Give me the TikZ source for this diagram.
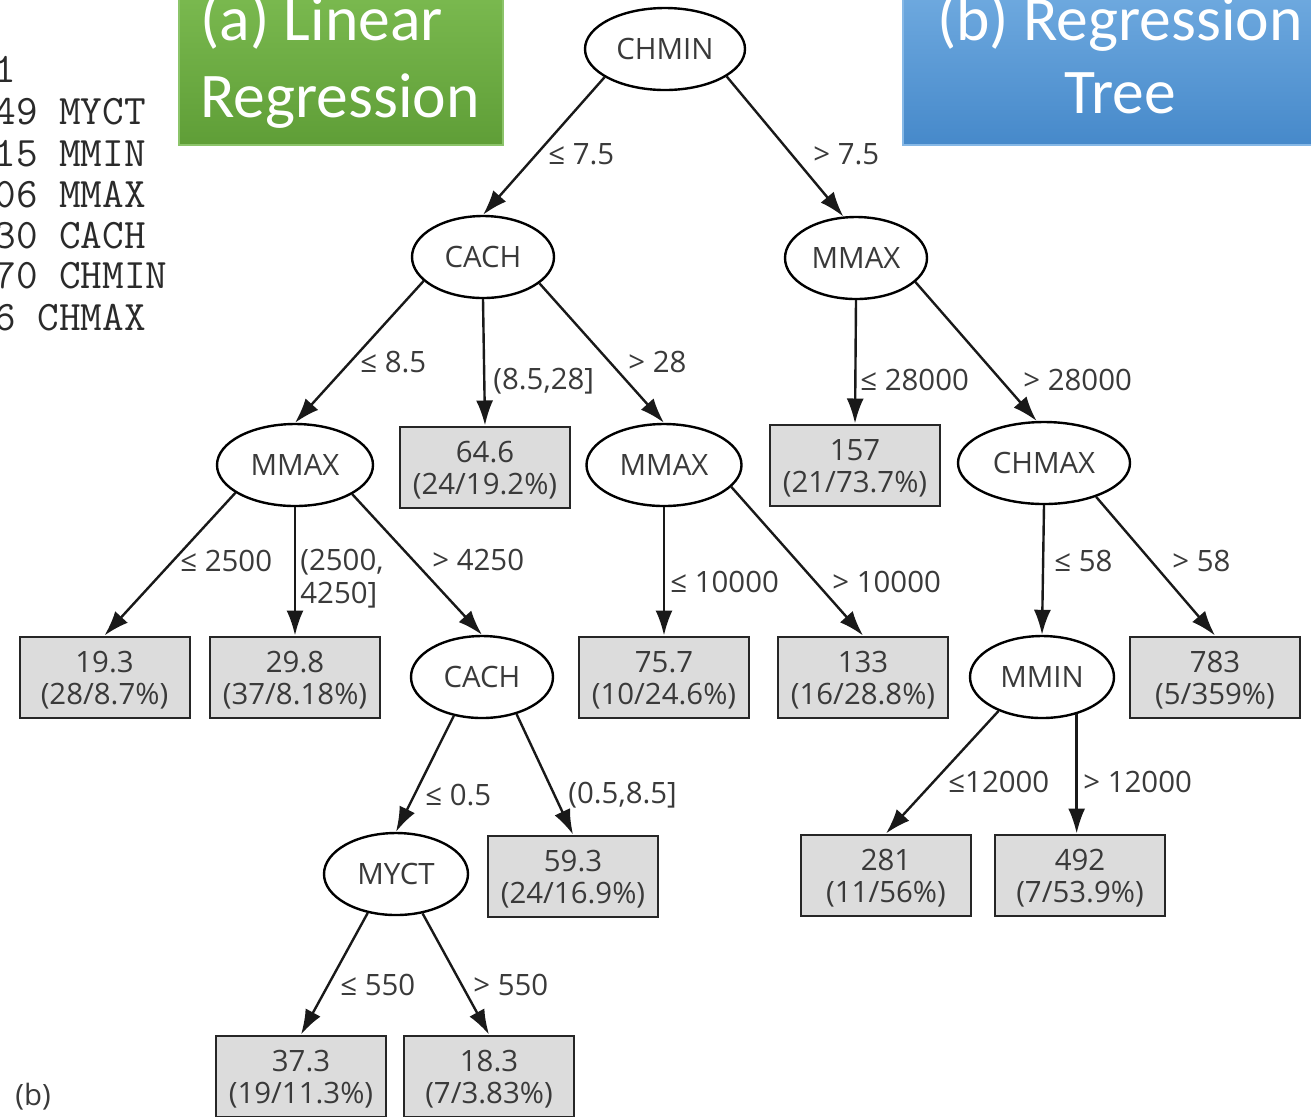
\documentclass[tikz,border=0pt]{standalone}
\usepackage{fontspec}
\usetikzlibrary{shapes.geometric,arrows.meta}
\newfontfamily\nodefont{Open Sans}
\newfontfamily\titlefont{Carlito}
\definecolor{inktext}{HTML}{3A3A3A}
\definecolor{codeink}{HTML}{2A2A2A}
\definecolor{leafgray}{HTML}{DCDCDC}
\definecolor{greentop}{HTML}{7AB94F}
\definecolor{greenbot}{HTML}{5F9E37}
\definecolor{greenedge}{HTML}{8CC46A}
\definecolor{bluetop}{HTML}{6EA9DF}
\definecolor{bluebot}{HTML}{4689CA}
\definecolor{blueedge}{HTML}{86B8E6}

\tikzset{
  test/.style={ellipse, draw=black, line width=1.2pt, fill=white, inner sep=0pt,
    minimum height=41pt, text=inktext,
    font=\nodefont\fontsize{14.7}{16}\selectfont, text height=10.5pt, text depth=0pt},
  leaf/.style={rectangle, draw=black!85, line width=1pt, fill=leafgray, inner sep=0pt,
    minimum width=85pt, minimum height=40.5pt, align=center, text=inktext,
    font=\nodefont\fontsize{14.7}{16}\selectfont, text height=27pt, text depth=0pt},
  lab/.style={inner sep=0pt, anchor=west, text=inktext,
    font=\nodefont\fontsize{14.7}{16.5}\selectfont, text height=10.5pt, text depth=0pt},
  arr/.style={draw=black!90, line width=1.2pt, -{Latex[length=12.5pt,width=8.5pt]}},
  code/.style={anchor=base west, inner sep=0pt, text=codeink,
    font=\ttfamily\fontsize{21}{24}\selectfont},
}

\begin{document}
\begin{tikzpicture}[x=0.5pt, y=-0.5pt]
\useasboundingbox (0,0) rectangle (1311,1116);
\clip (0,0) rectangle (1311,1116);
\fill[white] (0,0) rectangle (1311,1116);

% coefficient listing of the linear model
\node[code] (c1) at (-6,82)  {1};
\node[code] (c2) at (-6,124) {49 MYCT};
\node[code] (c3) at (-6,166) {15 MMIN};
\node[code] (c4) at (-6,207) {06 MMAX};
\node[code] (c5) at (-6,248) {30 CACH};
\node[code] (c6) at (-6,288) {70 CHMIN};
\node[code] (c7) at (-6,330) {6 CHMAX};

% title banners (the base anchor of a two-line node sits on its last line)
\shade[top color=greentop, bottom color=greenbot] (179,-5) rectangle (503,145);
\draw[greenedge, line width=0.6pt] (179,-5) rectangle (503,145);
\node[anchor=base west, inner sep=0pt, align=left, text=white,
  font=\titlefont\fontsize{31.8}{38.5}\selectfont] (ta) at (200,117) {(a) Linear\\Regression};

\shade[top color=bluetop, bottom color=bluebot] (903,-5) rectangle (1320,145);
\draw[blueedge, line width=0.6pt] (903,-5) rectangle (1320,145);
\node[anchor=base, inner sep=0pt, align=center, text=white,
  font=\titlefont\fontsize{31.8}{36.5}\selectfont] (tb) at (1120,113) {(b) Regression\\Tree};

% tree nodes
\node[test, minimum width=80pt]   (chmin) at (665,49)  {CHMIN};
\node[test, minimum width=71pt]   (cachA) at (483,257) {CACH};
\node[test, minimum width=71pt]   (mmaxR) at (856,258) {MMAX};
\node[test, minimum width=78pt]   (mmaxL) at (295,465) {MMAX};
\node[leaf] (b646) at (485,467) {64.6\\(24/19.2\%)};
\node[test, minimum width=77.5pt] (mmaxM) at (664,465) {MMAX};
\node[leaf] (b157) at (855,465) {157\\(21/73.7\%)};
\node[test, minimum width=86pt]   (chmax) at (1044,463) {CHMAX};
\node[leaf] (b193) at (104.5,677) {19.3\\(28/8.7\%)};
\node[leaf] (b298) at (295,677) {29.8\\(37/8.18\%)};
\node[test, minimum width=71pt]   (cachB) at (482,677) {CACH};
\node[leaf] (b757) at (664,677) {75.7\\(10/24.6\%)};
\node[leaf] (b133) at (863,677) {133\\(16/28.8\%)};
\node[test, minimum width=72pt]   (mmin) at (1042,677) {MMIN};
\node[leaf] (b783) at (1215,677) {783\\(5/359\%)};
\node[test, minimum width=72pt]   (myct) at (396,874) {MYCT};
\node[leaf] (b593) at (573,876) {59.3\\(24/16.9\%)};
\node[leaf] (b281) at (886,875) {281\\(11/56\%)};
\node[leaf] (b492) at (1080,875) {492\\(7/53.9\%)};
\node[leaf] (b373) at (301,1076) {37.3\\(19/11.3\%)};
\node[leaf] (b183) at (489,1076) {18.3\\(7/3.83\%)};

% branches
\draw[arr] (chmin.205) -- (cachA.north);
\draw[arr] (chmin.336) -- (mmaxR.107);
\draw[arr] (cachA.202) -- (mmaxL.north);
\draw[arr] (cachA.south) -- (b646.north);
\draw[arr] (cachA.335) -- (mmaxM.north);
\draw[arr] (mmaxR.south) -- (b157.north);
\draw[arr] (mmaxR.338) -- (chmax.100);
\draw[arr] (mmaxL.205) -- (b193.north);
\draw[arr] (mmaxL.south) -- (b298.north);
\draw[arr] (mmaxL.333) -- (cachB.north);
\draw[arr] (mmaxM.south) -- (b757.north);
\draw[arr] (mmaxM.342) -- (b133.north);
\draw[arr] (chmax.south) -- (mmin.north);
\draw[arr] (chmax.327) -- (b783.north);
\draw[arr] (cachB.234) -- (myct.north);
\draw[arr] (cachB.313) -- (b593.north);
\draw[arr] (mmin.218) -- (b281.north);
\draw[arr] (mmin.313) -- (mmin.313 |- b492.north);
\draw[arr] (myct.234) -- (b373.north);
\draw[arr] (myct.304) -- (b183.north);

% branch conditions
\node[lab] (l01) at (548,154)  {≤ 7.5};
\node[lab] (l02) at (813,154)  {> 7.5};
\node[lab] (l03) at (360,362)  {≤ 8.5};
\node[lab] (l04) at (493,379)  {(8.5,28]};
\node[lab] (l05) at (628,362)  {> 28};
\node[lab] (l06) at (860,380)  {≤ 28000};
\node[lab] (l07) at (1023,380) {> 28000};
\node[lab] (l08) at (180,561)  {≤ 2500};
\node[lab, align=left] (l09) at (300,593) {(2500,\\4250]};
\node[lab] (l10) at (432,560)  {> 4250};
\node[lab] (l11) at (670,582)  {≤ 10000};
\node[lab] (l12) at (832,582)  {> 10000};
\node[lab] (l13) at (1054,561) {≤ 58};
\node[lab] (l14) at (1172,561) {> 58};
\node[lab] (l15) at (425,795)  {≤ 0.5};
\node[lab] (l16) at (568,793)  {(0.5,8.5]};
\node[lab] (l17) at (948,782)  {≤12000};
\node[lab] (l18) at (1083,782) {> 12000};
\node[lab] (l19) at (340,985)  {≤ 550};
\node[lab] (l20) at (473,985)  {> 550};

% panel tag
\node[anchor=base west, inner sep=0pt, text=inktext,
  font=\nodefont\fontsize{14.7}{16}\selectfont] (tag) at (15,1105) {(b)};
\end{tikzpicture}
\end{document}
